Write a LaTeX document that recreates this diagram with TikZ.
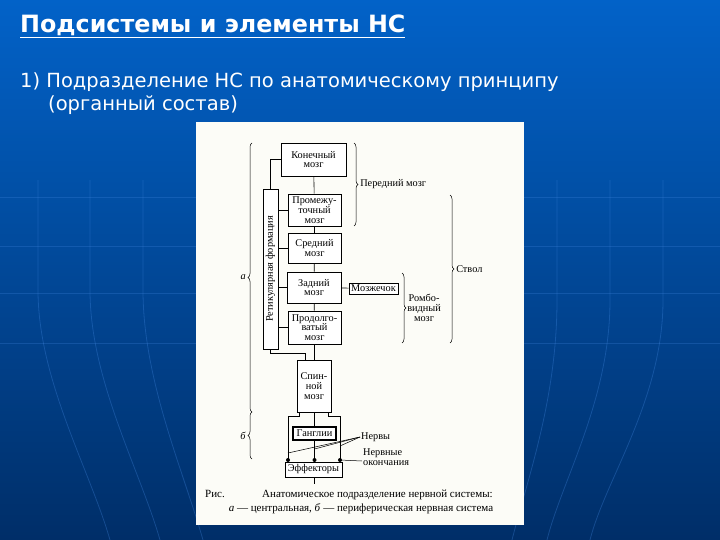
\documentclass[tikz,border=0pt]{standalone}
\usepackage{fontspec}
\setmainfont{Liberation Serif}
\newfontfamily\slidefont{DejaVu Sans}
\usetikzlibrary{decorations.pathreplacing}

\definecolor{slidetop}{RGB}{2,98,200}
\definecolor{slidebot}{RGB}{0,46,104}
\definecolor{gridblue}{RGB}{70,140,230}
\definecolor{paper}{RGB}{252,252,247}

\begin{document}
\begin{tikzpicture}[x=1pt,y=-1pt,
    box/.style={draw,fill=white,line width=0.6pt,align=center,inner sep=0pt,
      font=\fontsize{10.3}{9.8}\selectfont},
    link/.style={line width=0.6pt},
    brace/.style={decorate,decoration={brace,amplitude=4pt},line width=0.5pt},
    lbl/.style={font=\fontsize{10.3}{9.8}\selectfont,inner sep=1pt},
    capt/.style={font=\fontsize{11}{13}\selectfont,inner sep=0pt},
    slide/.style={text=white,inner sep=0pt,anchor=base west}]
  \useasboundingbox (0,0) rectangle (720,540);
  % background
  \shade[top color=slidetop,bottom color=slidebot] (0,0) rectangle (720,540);
  \foreach \y in {197,246,293,343}
    \draw[gridblue,opacity=0.25,line width=0.8pt] (0,\y) -- (720,\y);
  \foreach \x/\d in {38/72,90/70,143/60}
    \draw[gridblue,opacity=0.3,line width=0.8pt] (\x,180) -- (\x,290) .. controls (\x,380) and (\x+\d-20,470) .. (\x+\d,540);
  \foreach \x/\d in {557/45,610/63,663/73}
    \draw[gridblue,opacity=0.3,line width=0.8pt] (\x,180) -- (\x,300) .. controls (\x,400) and (\x-\d+15,480) .. (\x-\d,540);

  % slide text
  \node[slide,font=\slidefont\bfseries\fontsize{23.8}{28}\selectfont] (title) at (20,33) {\underline{Подсистемы и элементы НС}};
  \node[slide,font=\slidefont\fontsize{19.5}{22}\selectfont] (item) at (20,88) {1) Подразделение НС по анатомическому принципу};
  \node[slide,font=\slidefont\fontsize{19.5}{22}\selectfont] (item2) at (48,111) {(органный состав)};

  % picture
  \fill[paper] (196,122) rectangle (524,525);

  \node[box,minimum width=65pt,minimum height=33pt] (kon) at (313.5,159.5) {Конечный\\мозг};
  \node[box,minimum width=53pt,minimum height=32pt] (prom) at (314.5,210) {Промежу-\\точный\\мозг};
  \node[box,minimum width=53pt,minimum height=30pt] (sred) at (314.5,248) {Средний\\мозг};
  \node[box,minimum width=54pt,minimum height=31pt] (zad) at (314,287.5) {Задний\\мозг};
  \node[box,minimum width=53pt,minimum height=33pt] (prod) at (314.5,327.5) {Продолго-\\ватый\\мозг};
  \node[box,minimum width=49pt,minimum height=11pt] (mozh) at (373.5,288.5) {Мозжечок};
  \node[box,minimum width=34pt,minimum height=52pt] (spin) at (314,386) {Спин-\\ной\\мозг};
  \node[box,line width=1.1pt,minimum width=43pt,minimum height=13pt] (gang) at (314.5,433.5) {Ганглии};
  \node[box,minimum width=57pt,minimum height=15pt] (eff) at (313.5,469.5) {Эффекторы};
  \node[box,rotate=90,minimum width=160pt,minimum height=15pt] (ret) at (270.5,269) {Ретикулярная формация};

  % links
  \draw[link] (kon) -- (prom);
  \draw[link] (prom) -- (sred);
  \draw[link] (sred) -- (zad);
  \draw[link] (zad) -- (prod);
  \draw[link] (prod.south) -- (prod.south |- spin.north);
  \draw[link] (zad) -- (mozh);
  \draw[link] (kon.west) -| (ret.east);
  \foreach \b in {prom,sred,zad,prod}
    \draw[link] (ret.south |- \b.west) -- (\b.west);
  \draw[link] (ret.west) -- ++(0,4) -| ([xshift=-9pt]spin.north);

  \coordinate (endL) at (288,460);
  \coordinate (endM) at (314.5,460);
  \coordinate (endR) at (340,460);
  \coordinate (effdown) at (314.5,484);
  \draw[link] ([xshift=3pt]spin.south west) -- ++(0,4) -| (endL);
  \draw[link] ([xshift=-3pt]spin.south east) -- ++(0,4) -| (endR);
  \draw[link] (spin.south -| gang.north) -- (gang.north);
  \draw[link] (gang.south) -- (endM);
  \draw[link] (eff.south -| effdown) -- (effdown);
  \foreach \e in {endL,endM,endR}
    \fill (\e) circle (2pt);

  \node[lbl,anchor=west] (nerv) at (360,437) {Нервы};
  \node[lbl,anchor=west,align=left] (okon) at (362,457) {Нервные\\окончания};
  \coordinate (nL) at (288,453);
  \coordinate (nM) at (314.5,449);
  \coordinate (nR) at (340,446);
  \foreach \n in {nL,nM,nR}
    \draw[line width=0.5pt] (nerv.west) -- (\n);
  \draw[line width=0.5pt] ([yshift=-4pt]okon.west) -- (endR);

  % braces
  \draw[brace] (252,412) -- (252,143) node[midway,left=5pt,lbl] (aLbl) {\textit{а}};
  \draw[brace] (252,459) -- (252,412) node[midway,left=5pt,lbl] (bLbl) {\textit{б}};
  \draw[brace] (354,143) -- (354,226) node[midway,right=5pt,lbl] (pered) {Передний мозг};
  \draw[brace] (450,195) -- (450,343) node[midway,right=5pt,lbl] (stvol) {Ствол};
  \draw[brace] (402,273) -- (402,343) node[midway,right=4pt,lbl,align=center] (romb) {Ромбо-\\видный\\мозг};

  % caption
  \node[capt,anchor=base west] (ris) at (205,497) {Рис.};
  \node[capt,anchor=base west] (capA) at (262,497) {Анатомическое подразделение нервной системы:};
  \node[capt,anchor=base] (capB) at (361,511) {\textit{а} — центральная, \textit{б} — периферическая нервная система};
\end{tikzpicture}
\end{document}
